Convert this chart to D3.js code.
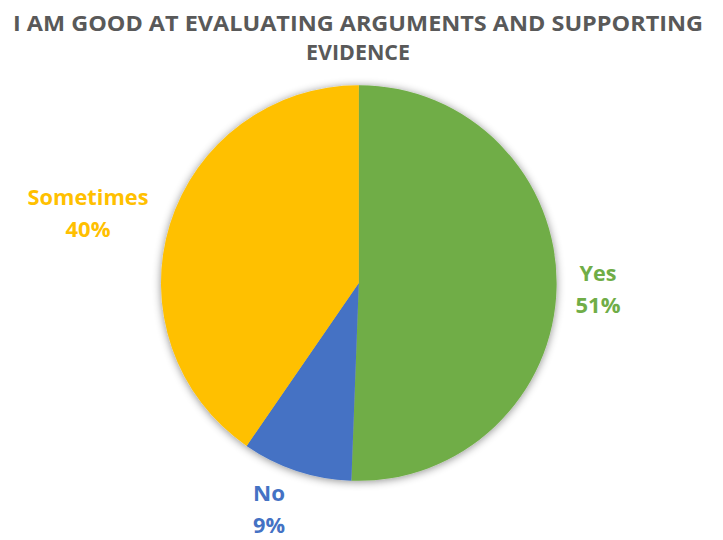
<!DOCTYPE html>
<html><head><meta charset="utf-8">
<script src="https://cdn.jsdelivr.net/npm/d3@7"></script>
<style>body{margin:0;background:#fff}svg{display:block}</style>
</head><body>
<script>
const categories = ["Yes", "No", "Sometimes"];
const values = [50.6, 9.0, 40.4];
const colors = ["#70AD47", "#4472C4", "#FFC000"];
const titleLines = ["I AM GOOD AT EVALUATING ARGUMENTS AND SUPPORTING", "EVIDENCE"];

const W = 723, H = 540;
const svg = d3.select("body").append("svg").attr("width", W).attr("height", H);

const defs = svg.append("defs");
const f = defs.append("filter").attr("id", "sh").attr("x", "-20%").attr("y", "-20%").attr("width", "140%").attr("height", "140%");
f.append("feDropShadow").attr("dx", 0).attr("dy", 1).attr("stdDeviation", 4).attr("flood-color", "#000").attr("flood-opacity", 0.45);

const font = "'Open Sans', 'Liberation Sans', sans-serif";

svg.append("g").selectAll("text").data(titleLines).join("text")
  .attr("x", 358).attr("y", (d, i) => 31 + i * 29)
  .attr("text-anchor", "middle")
  .attr("font-family", font).attr("font-weight", 700).attr("font-size", 21)
  .attr("fill", "#595959")
  .attr("textLength", (d, i) => i === 0 ? 690 : 104)
  .attr("lengthAdjust", "spacingAndGlyphs")
  .text(d => d);

const cx = 358.8, cy = 283, r = 197.8;
const pie = d3.pie().sort(null).value(d => d)(values);
const arc = d3.arc().innerRadius(0).outerRadius(r);

const g = svg.append("g").attr("transform", `translate(${cx},${cy})`);
g.append("g").attr("filter", "url(#sh)")
  .selectAll("path").data(pie).join("path")
  .attr("d", arc).attr("fill", (d, i) => colors[i]);

const labelPos = [[598, 281], [269, 501], [88, 205]];
const nameW = [37, 32, 121];
const pctW = [45, 32, 45];
const lg = svg.append("g");
categories.forEach((c, i) => {
  const [x, y] = labelPos[i];
  const t = lg.append("text").attr("text-anchor", "middle")
    .attr("font-family", font).attr("font-weight", 700).attr("font-size", 20.5)
    .attr("fill", colors[i]);
  t.append("tspan").attr("x", x).attr("y", y).attr("textLength", nameW[i]).attr("lengthAdjust", "spacingAndGlyphs").text(c);
  t.append("tspan").attr("x", x).attr("y", y + 32).attr("textLength", pctW[i]).attr("lengthAdjust", "spacingAndGlyphs").text(Math.round(values[i]) + "%");
});
</script>
</body></html>
